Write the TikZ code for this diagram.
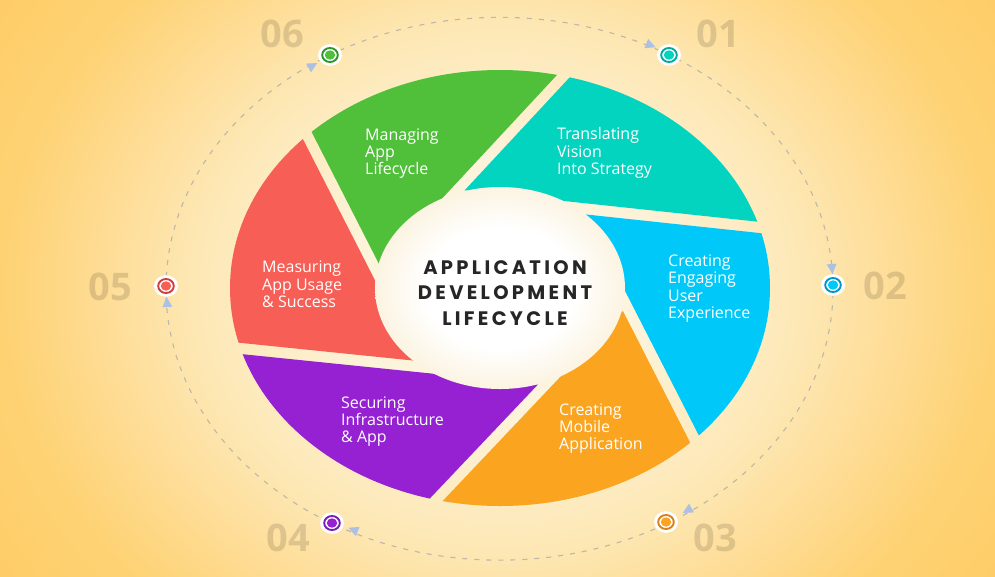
\documentclass[tikz,border=0pt]{standalone}
\usepackage{fontspec}
\setmainfont{Open Sans}
\newfontfamily\titlefont{Poppins}[LetterSpace=17]
\newfontfamily\numfont{Open Sans}
\usetikzlibrary{calc}

\definecolor{cGreen}{RGB}{80,191,58}
\definecolor{cTeal}{RGB}{3,212,192}
\definecolor{cBlue}{RGB}{0,200,248}
\definecolor{cOrange}{RGB}{250,164,32}
\definecolor{cPurple}{RGB}{150,33,210}
\definecolor{cRed}{RGB}{247,94,86}
\definecolor{rGreen}{RGB}{45,150,40}
\definecolor{rTeal}{RGB}{0,170,160}
\definecolor{rBlue}{RGB}{0,150,205}
\definecolor{rOrange}{RGB}{215,130,30}
\definecolor{rPurple}{RGB}{120,30,180}
\definecolor{rRed}{RGB}{210,60,60}
\definecolor{titlecol}{RGB}{38,38,38}
\definecolor{orbitcol}{RGB}{190,183,168}
\definecolor{arrowcol}{RGB}{172,192,228}
\definecolor{bg0}{RGB}{254,249,236}
\definecolor{bg1}{RGB}{253,243,218}
\definecolor{bg2}{RGB}{253,232,182}
\definecolor{bg3}{RGB}{254,220,148}
\definecolor{bg4}{RGB}{254,210,115}
\definecolor{bg5}{RGB}{254,205,104}
\definecolor{cc0}{RGB}{255,255,255}
\definecolor{cc1}{RGB}{252,244,226}

\pgfdeclareradialshading{bgshade}{\pgfpoint{0bp}{0bp}}{color(0bp)=(bg0); color(5.8bp)=(bg1); color(11.5bp)=(bg2); color(15.4bp)=(bg3); color(19.2bp)=(bg4); color(23bp)=(bg5); color(50bp)=(bg5)}
\pgfdeclareradialshading{centershade}{\pgfpoint{0bp}{0bp}}{color(0bp)=(cc0); color(15bp)=(cc0); color(25bp)=(cc1); color(50bp)=(cc1)}

\tikzset{
  bladetext/.style={font=\fontsize{16}{17.4}\selectfont, text=white, align=left, anchor=west, inner sep=0pt},
  titletext/.style={font=\titlefont\bfseries\fontsize{19.5}{25.7}\selectfont, text=titlecol, align=center, inner sep=0pt},
  numtext/.style={font=\numfont\bfseries\fontsize{38}{38}\selectfont, text=black, text opacity=0.13, inner sep=0pt},
  orbit/.style={draw=orbitcol, line width=1.1pt, dash pattern=on 5pt off 7pt},
  flowtip/.style={fill=arrowcol},
  pics/stagedot/.style 2 args={code={
    \fill[white] (0,0) ellipse [x radius=12pt, y radius=10.8pt];
    \draw[#1, line width=1.9pt] (0,0) ellipse [x radius=7.8pt, y radius=7pt];
    \fill[#2] (0,0) ellipse [x radius=5.2pt, y radius=4.7pt];
  }}
}

\begin{document}
\begin{tikzpicture}[x=1pt,y=-1pt]
\useasboundingbox (0,0) rectangle (995,576);
\clip (0,0) rectangle (995,576);
\shade[shading=bgshade] (500,288) ellipse [x radius=650pt, y radius=560pt];

% dashed orbit
\draw[orbit] (499.5,288.75) ellipse [x radius=333.5pt, y radius=271.4pt];

% gap edge lines
\coordinate (a1t) at (567.0,80.2);  \coordinate (b1t) at (362.7,299.8);
\coordinate (a1g) at (559.0,72.8);  \coordinate (b1g) at (354.7,292.4);
\coordinate (a2b) at (759.4,233.0); \coordinate (b2b) at (461.1,201.1);
\coordinate (a2t) at (760.6,222.0); \coordinate (b2t) at (462.3,190.1);
\coordinate (a3o) at (689.6,441.5); \coordinate (b3o) at (553.1,174.4);
\coordinate (a3b) at (699.4,436.5); \coordinate (b3b) at (562.9,169.4);
\coordinate (a4p) at (432.0,496.2); \coordinate (b4p) at (638.4,278.4);
\coordinate (a4o) at (440.0,503.8); \coordinate (b4o) at (646.4,286.0);
\coordinate (a5r) at (241.8,343.0); \coordinate (b5r) at (540.2,373.5);
\coordinate (a5p) at (240.7,354.0); \coordinate (b5p) at (539.1,384.5);
\coordinate (a6g) at (312.4,133.5); \coordinate (b6g) at (448.8,400.7);
\coordinate (a6r) at (302.6,138.5); \coordinate (b6r) at (439.0,405.7);

\coordinate (tipTeal)   at (intersection of a1t--b1t and a2t--b2t);
\coordinate (tipBlue)   at (intersection of a2b--b2b and a3b--b3b);
\coordinate (tipOrange) at (intersection of a3o--b3o and a4o--b4o);
\coordinate (tipPurple) at (intersection of a4p--b4p and a5p--b5p);
\coordinate (tipRed)    at (intersection of a5r--b5r and a6r--b6r);
\coordinate (tipGreen)  at (intersection of a6g--b6g and a1g--b1g);

\begin{scope}
\clip (500,288) ellipse [x radius=270pt, y radius=218pt];
\fill[cTeal]   ($(tipTeal)!3!(a1t)$) -- (tipTeal) -- ($(tipTeal)!3!(a2t)$) -- cycle;
\fill[cBlue]   ($(tipBlue)!3!(a2b)$) -- (tipBlue) -- ($(tipBlue)!3!(a3b)$) -- cycle;
\fill[cOrange] ($(tipOrange)!3!(a3o)$) -- (tipOrange) -- ($(tipOrange)!3!(a4o)$) -- cycle;
\fill[cPurple] ($(tipPurple)!3!(a4p)$) -- (tipPurple) -- ($(tipPurple)!3!(a5p)$) -- cycle;
\fill[cRed]    ($(tipRed)!3!(a5r)$) -- (tipRed) -- ($(tipRed)!3!(a6r)$) -- cycle;
\fill[cGreen]  ($(tipGreen)!3!(a6g)$) -- (tipGreen) -- ($(tipGreen)!3!(a1g)$) -- cycle;
\end{scope}

% centre disc
\shade[shading=centershade] (500,288) ellipse [x radius=125pt, y radius=101pt];

\node[titletext] (title) at (505,293) {APPLICATION\\DEVELOPMENT\\LIFECYCLE};

% blade texts
\node[bladetext] (txt1) at (557,153) {Translating\\Vision\\Into Strategy};
\node[bladetext] (txt2) at (668,288.5) {Creating\\Engaging\\User\\Experience};
\node[bladetext] (txt3) at (559,428.5) {Creating\\Mobile\\Application};
\node[bladetext] (txt4) at (341,421.5) {Securing\\Infrastructure\\\& App};
\node[bladetext] (txt5) at (262,284.5) {Measuring\\App Usage\\\& Success};
\node[bladetext] (txt6) at (365,153.5) {Managing\\App\\Lifecycle};

% step numbers
\node[numtext] (n01) at (718,34) {01};
\node[numtext] (n02) at (885,286) {02};
\node[numtext] (n03) at (715,538) {03};
\node[numtext] (n04) at (288,538) {04};
\node[numtext] (n05) at (110.5,287) {05};
\node[numtext] (n06) at (282.5,34) {06};

% flow arrowheads
\fill[flowtip, shift={(650,45)}, rotate=-22] (6,0) -- (-4,5) -- (-4,-5) -- cycle;
\fill[flowtip, shift={(832,268)}, rotate=-84.6] (6,0) -- (-4,5) -- (-4,-5) -- cycle;
\fill[flowtip, shift={(688,510)}, rotate=209.3] (6,0) -- (-4,5) -- (-4,-5) -- cycle;
\fill[flowtip, shift={(354,530)}, rotate=158.2] (6,0) -- (-4,5) -- (-4,-5) -- cycle;
\fill[flowtip, shift={(167,303)}, rotate=93.8] (6,0) -- (-4,5) -- (-4,-5) -- cycle;
\fill[flowtip, shift={(312,66)}, rotate=29.2] (6,0) -- (-4,5) -- (-4,-5) -- cycle;

% markers
\pic at (669,55) {stagedot={rTeal}{cTeal}};
\pic at (833,285) {stagedot={rBlue}{cBlue}};
\pic at (666,522) {stagedot={rOrange}{cOrange}};
\pic at (332,523) {stagedot={rPurple}{cPurple}};
\pic at (166,286) {stagedot={rRed}{cRed}};
\pic at (330,55) {stagedot={rGreen}{cGreen}};
\end{tikzpicture}
\end{document}
